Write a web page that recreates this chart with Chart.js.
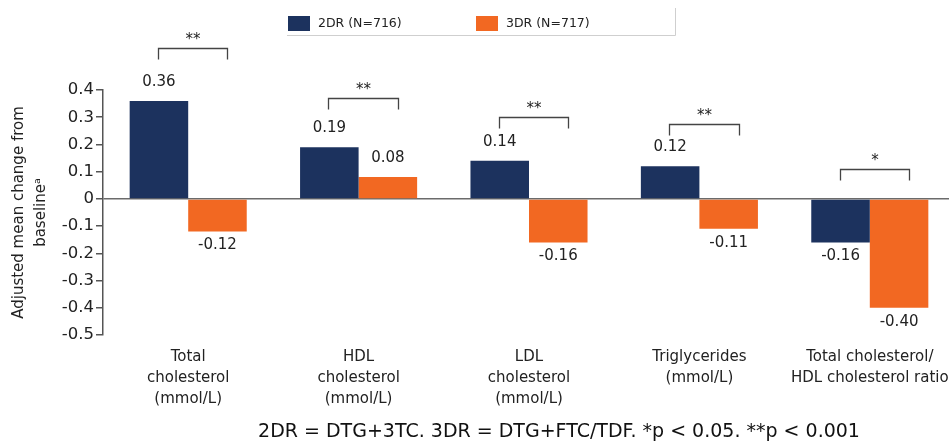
<!DOCTYPE html>
<html>
<head>
<meta charset="utf-8">
<script src="https://cdn.jsdelivr.net/npm/chart.js@4/dist/chart.umd.min.js"></script>
<style>
  html, body { margin: 0; padding: 0; background: #fff; overflow: hidden; }
  /* slightly wider than the window: the last category runs off the right edge like the original */
  #wrap { position: relative; width: 956px; height: 444px; }
</style>
</head>
<body>
<div id="wrap"><canvas id="lipidChart"></canvas></div>
<script>
// Categories on the x axis (each label is split into its lines)
const categories = [
  ['Total', 'cholesterol', '(mmol/L)'],
  ['HDL', 'cholesterol', '(mmol/L)'],
  ['LDL', 'cholesterol', '(mmol/L)'],
  ['Triglycerides', '(mmol/L)'],
  ['Total cholesterol/', 'HDL cholesterol ratio'],
];
const seriesNames = ['2DR (N=716)', '3DR (N=717)'];
const values2DR = [0.36, 0.19, 0.14, 0.12, -0.16];
const values3DR = [-0.12, 0.08, -0.16, -0.11, -0.40];
const significance = ['**', '**', '**', '**', '*'];
const yTickValues = [-0.5, -0.4, -0.3, -0.2, -0.1, 0, 0.1, 0.2, 0.3, 0.4];
const footnote = '2DR = DTG+3TC. 3DR = DTG+FTC/TDF. *p < 0.05. **p < 0.001';

const NAVY = '#1c325e';
const ORANGE = '#f26822';
const FONT = '"DejaVu Sans", sans-serif';

const fmtTick = (v) => (Math.abs(v) < 1e-9 ? '0' : v.toFixed(1));

// Value labels above positive bars, below negative ones
const valueLabels = {
  id: 'valueLabels',
  afterDatasetsDraw(chart) {
    const ctx = chart.ctx;
    ctx.save();
    ctx.font = '15px ' + FONT;
    ctx.fillStyle = '#222';
    ctx.textAlign = 'center';
    ctx.textBaseline = 'middle';
    chart.data.datasets.forEach((ds, d) => {
      chart.getDatasetMeta(d).data.forEach((bar, i) => {
        const v = ds.data[i];
        const y = v >= 0 ? bar.y - 19 : bar.y + 14;
        ctx.fillText(v.toFixed(2), bar.x, y);
      });
    });
    ctx.restore();
  },
};

// Significance brackets over each pair of bars
const sigBrackets = {
  id: 'sigBrackets',
  afterDatasetsDraw(chart, args, opts) {
    const { ctx, scales } = chart;
    const m0 = chart.getDatasetMeta(0);
    const m1 = chart.getDatasetMeta(1);
    ctx.save();
    ctx.strokeStyle = '#444';
    ctx.lineWidth = 1.3;
    ctx.fillStyle = '#222';
    ctx.font = '15px ' + FONT;
    ctx.textAlign = 'center';
    ctx.textBaseline = 'alphabetic';
    significance.forEach((mark, i) => {
      const b0 = m0.data[i];
      const b1 = m1.data[i];
      const x1 = Math.round(b0.x - 1) + 0.5;
      const x2 = Math.round(b1.x + 0.17 * b1.width) + 0.5;
      const top = Math.round(scales.y.getPixelForValue(opts.levels[i])) + 0.5;
      ctx.beginPath();
      ctx.moveTo(x1, top + 11);
      ctx.lineTo(x1, top);
      ctx.lineTo(x2, top);
      ctx.lineTo(x2, top + 11);
      ctx.stroke();
      ctx.fillText(mark, (x1 + x2) / 2, top - 4.5);
    });
    ctx.restore();
  },
};

// Boxed legend at the top and the footnote under the chart
const legendAndNote = {
  id: 'legendAndNote',
  afterDraw(chart) {
    const ctx = chart.ctx;
    ctx.save();
    // legend frame (only bottom and right edges are visible)
    ctx.strokeStyle = '#cfcfcf';
    ctx.lineWidth = 1;
    ctx.beginPath();
    ctx.moveTo(287, 35.5);
    ctx.lineTo(675.5, 35.5);
    ctx.lineTo(675.5, 8);
    ctx.stroke();

    const starts = [288, 476];
    ctx.font = '12.5px ' + FONT;
    ctx.textBaseline = 'middle';
    ctx.textAlign = 'left';
    chart.data.datasets.forEach((ds, d) => {
      ctx.fillStyle = ds.backgroundColor;
      ctx.fillRect(starts[d], 16, 22, 15);
      ctx.fillStyle = '#222';
      ctx.fillText(ds.label, starts[d] + 30, 24);
    });

    ctx.font = '19px ' + FONT;
    ctx.textAlign = 'center';
    ctx.fillStyle = '#111';
    ctx.fillText(footnote, 559, 432);
    ctx.restore();
  },
};

const chart = new Chart(document.getElementById('lipidChart'), {
  type: 'bar',
  data: {
    labels: categories,
    datasets: [
      { label: seriesNames[0], data: values2DR, backgroundColor: NAVY },
      { label: seriesNames[1], data: values3DR, backgroundColor: ORANGE },
    ],
  },
  options: {
    responsive: true,
    maintainAspectRatio: false,
    animation: false,
    layout: { padding: { top: 90, right: 1, bottom: 0, left: 0 } },
    datasets: {
      bar: { barPercentage: 1, categoryPercentage: 0.687 },
    },
    plugins: {
      legend: { display: false },
      tooltip: { enabled: false },
      sigBrackets: { levels: [0.555, 0.372, 0.302, 0.276, 0.11] },
    },
    scales: {
      x: {
        grid: { display: false },
        border: { display: false },
        ticks: {
          color: '#222',
          font: { family: FONT, size: 15, lineHeight: 1.4 },
          maxRotation: 0,
          autoSkip: false,
          padding: 4,
        },
        afterFit(scale) {
          scale.height = 109;
        },
      },
      y: {
        min: -0.5,
        max: 0.4,
        afterBuildTicks(scale) {
          scale.ticks = yTickValues.map((v) => ({ value: v }));
        },
        grid: {
          color: (ctx) => (ctx.tick && Math.abs(ctx.tick.value) < 1e-9 ? '#6b6b6b' : 'rgba(0,0,0,0)'),
          lineWidth: 1.5,
          tickColor: '#555',
          tickLength: 7,
          drawOnChartArea: true,
        },
        border: { display: true, color: '#555', width: 1.5 },
        ticks: {
          color: '#222',
          font: { family: FONT, size: 16.5 },
          padding: 2,
          callback: (v) => fmtTick(v),
        },
        title: {
          display: true,
          text: ['Adjusted mean change from', 'baselineᵃ'],
          color: '#222',
          font: { family: FONT, size: 15, lineHeight: 1.45 },
          padding: { top: 8, bottom: 0 },
        },
        afterFit(scale) {
          scale.width = 103;
        },
      },
    },
  },
  plugins: [valueLabels, sigBrackets, legendAndNote],
});
</script>
</body>
</html>
